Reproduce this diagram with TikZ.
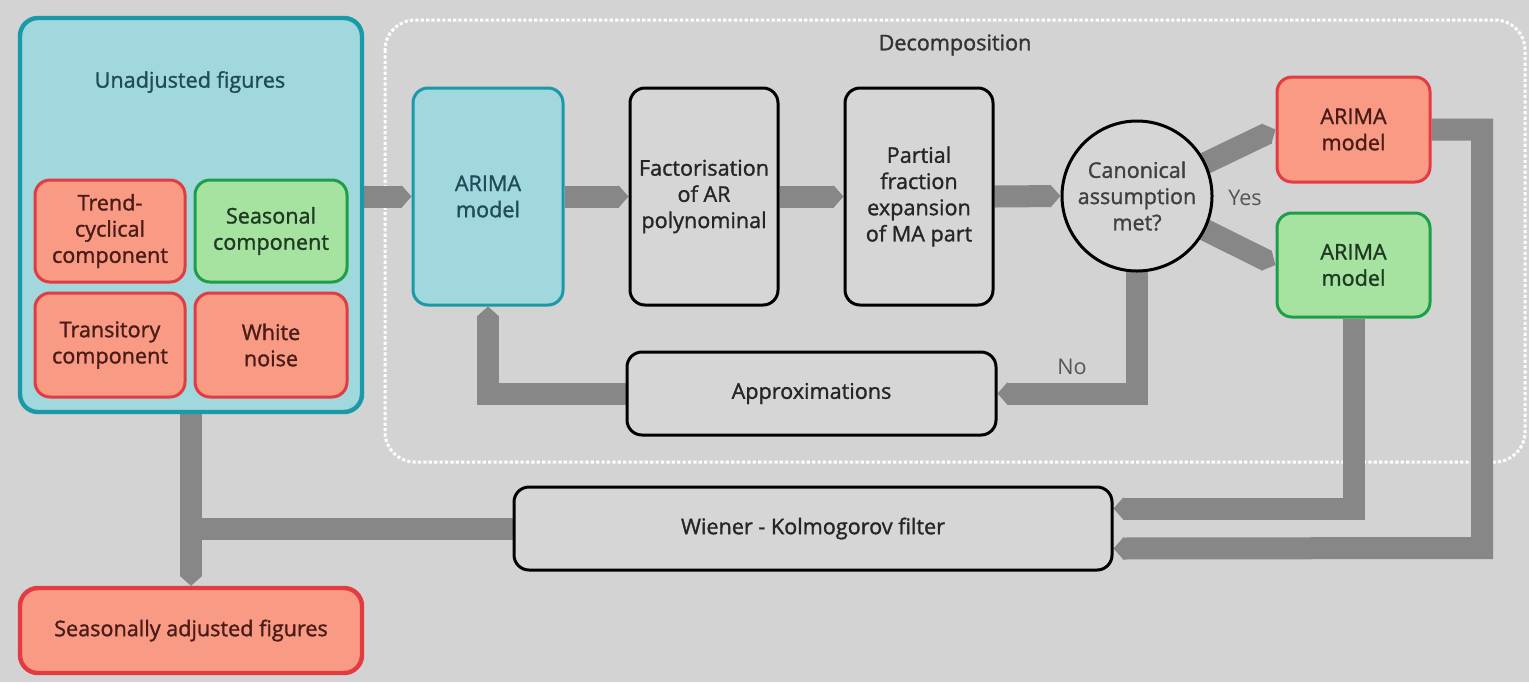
\documentclass[tikz,border=0pt]{standalone}
\usepackage{fontspec}
\setmainfont{Open Sans}
\newfontfamily\medfont{Open Sans}[FakeBold=1.3]
\usetikzlibrary{arrows.meta,calc,shapes.geometric}
\pgfdeclarelayer{bg}
\pgfsetlayers{bg,main}
\definecolor{bgc}{HTML}{D3D3D3}
\definecolor{barc}{HTML}{878787}
\definecolor{tealf}{HTML}{A0D8DD}
\definecolor{teald}{HTML}{1A99A6}
\definecolor{tealt}{HTML}{1F4B5A}
\definecolor{redf}{HTML}{F89A84}
\definecolor{redd}{HTML}{E23B42}
\definecolor{redt}{HTML}{4A1C18}
\definecolor{grnf}{HTML}{A6E3A0}
\definecolor{grnd}{HTML}{1E9E48}
\definecolor{grnt}{HTML}{1E3A22}
\definecolor{grayf}{HTML}{D6D6D6}
\definecolor{lblc}{HTML}{555555}
\tikzset{
  txt/.style={font=\medfont\fontsize{10.8}{13.1}\selectfont},
  box/.style={rectangle, rounded corners=7.5pt, line width=1.5pt, align=center,
    txt, inner sep=2pt},
  tealbox/.style={box, draw=teald, fill=tealf, text=tealt},
  redbox/.style={box, draw=redd, fill=redf, text=redt},
  grnbox/.style={box, draw=grnd, fill=grnf, text=grnt},
  graybox/.style={box, draw=black, fill=grayf, text=black!85},
  bar/.style={draw=barc, line width=11pt, line join=miter, line cap=butt},
  barrow/.style={bar, -{Triangle[length=5pt, width=0pt 1]}},
  lbl/.style={font=\fontsize{10.8}{13.1}\selectfont, text=lblc},
}
\begin{document}
\begin{tikzpicture}[x=0.5pt,y=-0.5pt]
\useasboundingbox (0,0) rectangle (1529,682);
% nodes
\node[tealbox, line width=2.2pt, rounded corners=9pt, minimum width=171pt, minimum height=197pt] (unadj) at (191,215) {};
\node[txt, text=tealt] (unadjt) at (190,82) {Unadjusted figures};
\node[redbox, minimum width=75pt, minimum height=51pt] (trend) at (110,231) {Trend-\\cyclical\\component};
\node[grnbox, minimum width=76pt, minimum height=51pt] (seas) at (271,231) {Seasonal\\component};
\node[redbox, minimum width=75pt, minimum height=52pt] (trans) at (110,345) {Transitory\\component};
\node[redbox, minimum width=76pt, minimum height=52pt] (white) at (271,345) {White\\noise};
\node[txt, text=black!80] (decomp) at (955,45) {Decomposition};
\node[tealbox, minimum width=75pt, minimum height=108.5pt] (arima1) at (488,196.5) {ARIMA\\model};
\node[graybox, minimum width=74pt, minimum height=108.5pt] (fact) at (704,196.5) {Factorisation\\of AR\\polynominal};
\node[graybox, minimum width=74pt, minimum height=108.5pt] (part) at (919,196.5) {Partial\\fraction\\expansion\\of MA part};
\node[circle, draw=black, line width=1.5pt, fill=grayf, minimum size=75pt, inner sep=0pt, align=center, txt, text=black!75] (circ) at (1137,196) {Canonical\\assumption\\met?};
\node[redbox, minimum width=76.5pt, minimum height=52.5pt] (arimar) at (1353.5,129.5) {ARIMA\\model};
\node[grnbox, minimum width=76.5pt, minimum height=52pt] (arimag) at (1353.5,265) {ARIMA\\model};
\node[graybox, minimum width=184.5pt, minimum height=41.5pt] (approx) at (811.5,393.5) {Approximations};
\node[graybox, minimum width=299pt, minimum height=41.5pt] (wiener) at (813,528.5) {Wiener - Kolmogorov filter};
\node[redbox, line width=2.2pt, rounded corners=9pt, minimum width=171pt, minimum height=42.5pt] (sadj) at (191,630.5) {Seasonally adjusted figures};
\node[lbl] (yes) at (1245,198) {Yes};
\node[lbl] (no) at (1072,367) {No};
\coordinate (wup) at ($(wiener.east)+(0,-20)$);
\coordinate (wlo) at ($(wiener.east)+(0,20)$);
\coordinate (rx) at (1482,548);
\begin{pgfonlayer}{bg}
\fill[bgc] (0,0) rectangle (1529,682);
\draw[white, line width=1.5pt, dash pattern=on 1.6pt off 1.1pt, rounded corners=15pt] (385,20) rectangle (1525,462);
\draw[barrow] (unadj.east |- arima1.west) -- (arima1.west);
\draw[barrow] (arima1.east) -- (fact.west);
\draw[barrow] (fact.east) -- (part.west);
\draw[barrow] (part.east) -- (circ.west);
\draw[barrow] (circ.center) -- (arimar.west);
\draw[barrow] (circ.center) -- (arimag.west);
\draw[barrow] (circ.center) |- (approx.east);
\draw[barrow] (approx.west) -| (arima1.south);
\draw[barrow] (unadj.south) -- (sadj.north);
\draw[bar] (wiener.west) -- (unadj.south |- wiener.west);
\draw[barrow] (arimag.south) |- (wup);
\draw[barrow] (arimar.east) -| (rx) -- (wlo);
\end{pgfonlayer}
\end{tikzpicture}
\end{document}
